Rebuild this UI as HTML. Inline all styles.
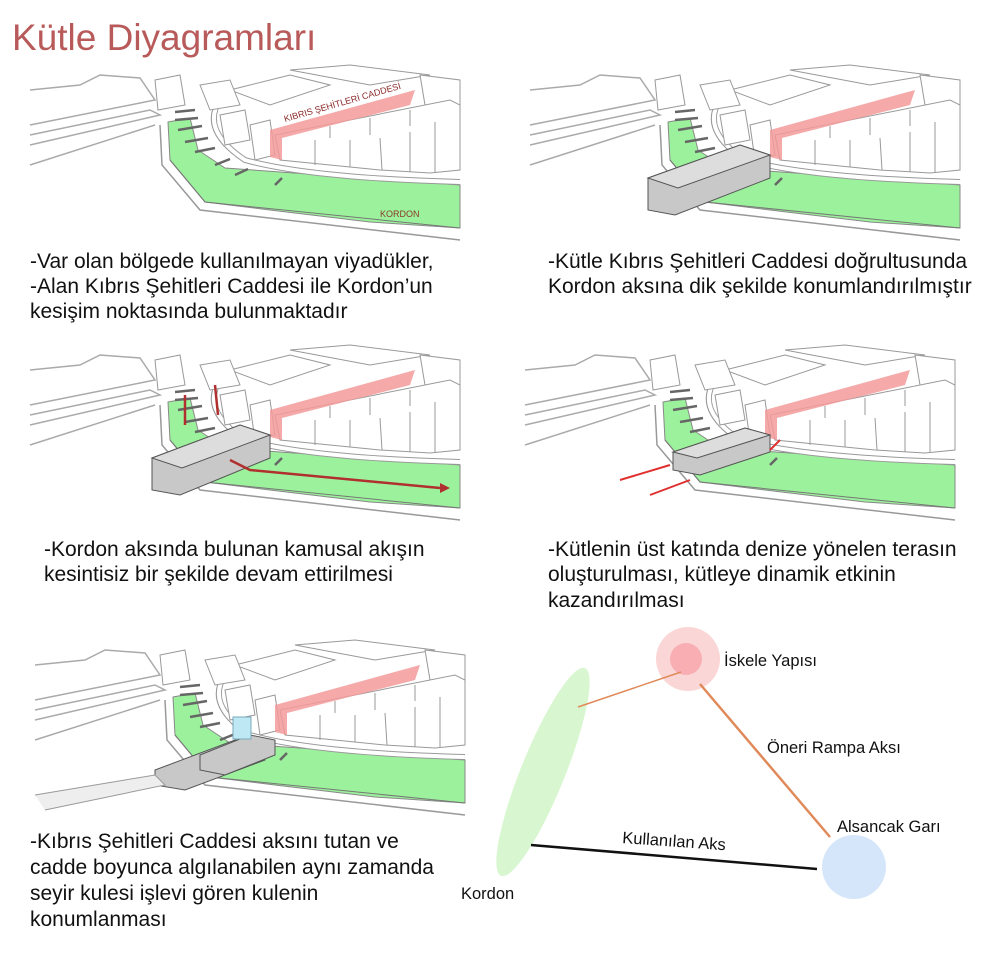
<!DOCTYPE html>
<html><head><meta charset="utf-8"><style>
body{margin:0;background:#fff;width:1000px;height:960px;overflow:hidden;font-family:"Liberation Sans",sans-serif;}
svg{position:absolute;left:0;top:0}
.t{font-size:21px;fill:#111}
.d{font-size:16.5px;fill:#111}
</style></head><body>
<svg width="1000" height="960" viewBox="0 0 1000 960">
<defs>
<g id="base">
 <path d="M0,30 L50,25 L70,15 L110,18 L125,40 L0,65" fill="none" stroke="#aaa" stroke-width="1.5"/>
 <path d="M0,75 L120,50 L130,55 L0,85" fill="none" stroke="#aaa" stroke-width="1.5"/>
 <path d="M0,105 L125,65" fill="none" stroke="#aaa" stroke-width="1.5"/>
 <polygon points="138,62 160,58 168,90 195,108 430,125 430,168 340,162 240,150 175,142 140,100" fill="#9cf29c" stroke="#888"/>
 <path d="M130,65 L132,105 L170,150 L430,180" fill="none" stroke="#999" stroke-width="1.5"/>
 <path d="M140,100 L175,142 L430,168" fill="none" stroke="#777"/>
 <path d="M190,40 Q170,70 215,100 Q280,118 430,122" fill="none" stroke="#999" stroke-width="6"/>
 <path d="M190,40 Q170,70 215,100 Q280,118 430,122" fill="none" stroke="#fff" stroke-width="4"/>
 <g stroke="#666" stroke-width="2.5"><path d="M145,52 L165,50"/><path d="M145,60 L168,58"/><path d="M148,70 L172,66"/><path d="M155,82 L178,78"/><path d="M165,92 L185,88"/><path d="M185,105 L200,99"/><path d="M205,115 L218,109"/><path d="M245,125 L252,118"/></g>
 <g fill="#fff" stroke="#999">
  <polygon points="125,20 150,15 155,45 128,50"/>
  <polygon points="200,30 260,15 300,25 240,45"/>
  <polygon points="170,25 200,20 210,45 180,50"/>
  <polygon points="260,10 320,5 400,15 340,25"/>
  <polygon points="390,15 430,20 430,50 395,45"/>
  <polygon points="190,55 215,50 220,80 195,85"/>
  <polygon points="220,65 240,60 245,95 225,100"/>
  <path d="M245,75 L420,40 L430,45 L430,110 L400,113 L350,110 L300,105 L250,100 Z"/>
  <path d="M245,75 L250,100 M285,80 L285,105 M320,80 L320,107 M350,78 L352,110 M380,72 L380,112 M405,62 L405,113 M300,66 L300,78 M340,58 L340,75 M380,50 L380,66"/>
 </g>
 <polygon points="240,70 385,30 380,45 252,78 252,100 240,97" fill="#f39a9a" opacity="0.85"/>
</g>
</defs>

<text x="12" y="50" font-size="37" fill="#b85a5a">Kütle Diyagramları</text>

<g transform="translate(30,60)"><use href="#base"/>
 <text x="255" y="62" font-size="9" fill="#8b2a2a" transform="rotate(-16 255 62)">KIBRIS ŞEHİTLERİ CADDESİ</text>
 <text x="350" y="157" font-size="9" fill="#8b3a2a">KORDON</text>
</g>
<g transform="translate(530,60)"><use href="#base"/>
 <polygon points="118,118 210,85 240,95 240,118 145,155 118,150" fill="#c8c8c8" stroke="#555"/>
 <polygon points="118,118 210,85 240,95 148,128" fill="#ddd" stroke="#555"/>
</g>
<g transform="translate(30,340)"><use href="#base"/>
 <polygon points="122,118 210,85 240,95 240,118 150,155 122,150" fill="#c8c8c8" stroke="#555"/>
 <polygon points="122,118 210,85 240,95 152,128" fill="#ddd" stroke="#555"/>
 <path d="M155,85 L155,55 M188,75 L185,45 M200,120 L220,130 L410,148" fill="none" stroke="#b03030" stroke-width="2.5"/>
 <polygon points="410,143 420,148 410,153" fill="#b03030"/>
</g>
<g transform="translate(525,340)"><use href="#base"/>
 <polygon points="148,112 220,88 245,95 245,112 175,135 148,130" fill="#c8c8c8" stroke="#555"/>
 <polygon points="148,112 220,88 245,95 172,118" fill="#ddd" stroke="#555"/>
 <path d="M95,140 L145,125 M125,155 L165,140 M245,110 L255,100" stroke="#e03030" stroke-width="2"/>
</g>
<g transform="translate(35,635)"><use href="#base"/>
 <polygon points="120,135 200,105 230,110 230,125 150,155 120,150" fill="#c8c8c8" stroke="#555"/>
 <polygon points="165,120 215,100 240,105 240,120 190,140 165,135" fill="#c8c8c8" stroke="#555"/>
 <rect x="198" y="82" width="18" height="22" fill="#bfe8f5" stroke="#7ab"/>
 <path d="M0,160 L120,140 L130,150 L10,175" fill="#eee" stroke="#999"/>
</g>

<text class="t" x="30" y="268">-Var olan bölgede kullanılmayan viyadükler,</text>
<text class="t" x="30" y="293">-Alan Kıbrıs Şehitleri Caddesi ile Kordon’un</text>
<text class="t" x="30" y="318">kesişim noktasında bulunmaktadır</text>
<text class="t" x="548" y="268">-Kütle Kıbrıs Şehitleri Caddesi doğrultusunda</text>
<text class="t" x="548" y="293">Kordon aksına dik şekilde konumlandırılmıştır</text>
<text class="t" x="44" y="556">-Kordon aksında bulunan kamusal akışın</text>
<text class="t" x="44" y="581">kesintisiz bir şekilde devam ettirilmesi</text>
<text class="t" x="548" y="556">-Kütlenin üst katında denize yönelen terasın</text>
<text class="t" x="548" y="581">oluşturulması, kütleye dinamik etkinin</text>
<text class="t" x="548" y="607">kazandırılması</text>
<text class="t" x="30" y="848">-Kıbrıs Şehitleri Caddesi aksını tutan ve</text>
<text class="t" x="30" y="874">cadde boyunca algılanabilen aynı zamanda</text>
<text class="t" x="30" y="900">seyir kulesi işlevi gören kulenin</text>
<text class="t" x="30" y="926">konumlanması</text>

<ellipse cx="543" cy="772" rx="22" ry="112" transform="rotate(22 543 772)" fill="#d8f7d0"/>
<circle cx="688" cy="659" r="32" fill="#fbd6d6"/>
<circle cx="686" cy="659" r="16" fill="#f8aeb3"/>
<circle cx="854" cy="867" r="32" fill="#d6e6fa"/>
<line x1="578" y1="707" x2="681" y2="672" stroke="#e08a5a" stroke-width="1.5"/>
<line x1="700" y1="684" x2="830" y2="837" stroke="#e08a5a" stroke-width="2.5"/>
<line x1="531" y1="845" x2="817" y2="869" stroke="#111" stroke-width="2.5"/>
<text class="d" x="724" y="666">İskele Yapısı</text>
<text class="d" x="767" y="753">Öneri Rampa Aksı</text>
<text class="d" x="837" y="832">Alsancak Garı</text>
<text class="d" x="622" y="843" transform="rotate(4 622 843)">Kullanılan Aks</text>
<text class="d" x="461" y="899">Kordon</text>
</svg>
</body></html>
